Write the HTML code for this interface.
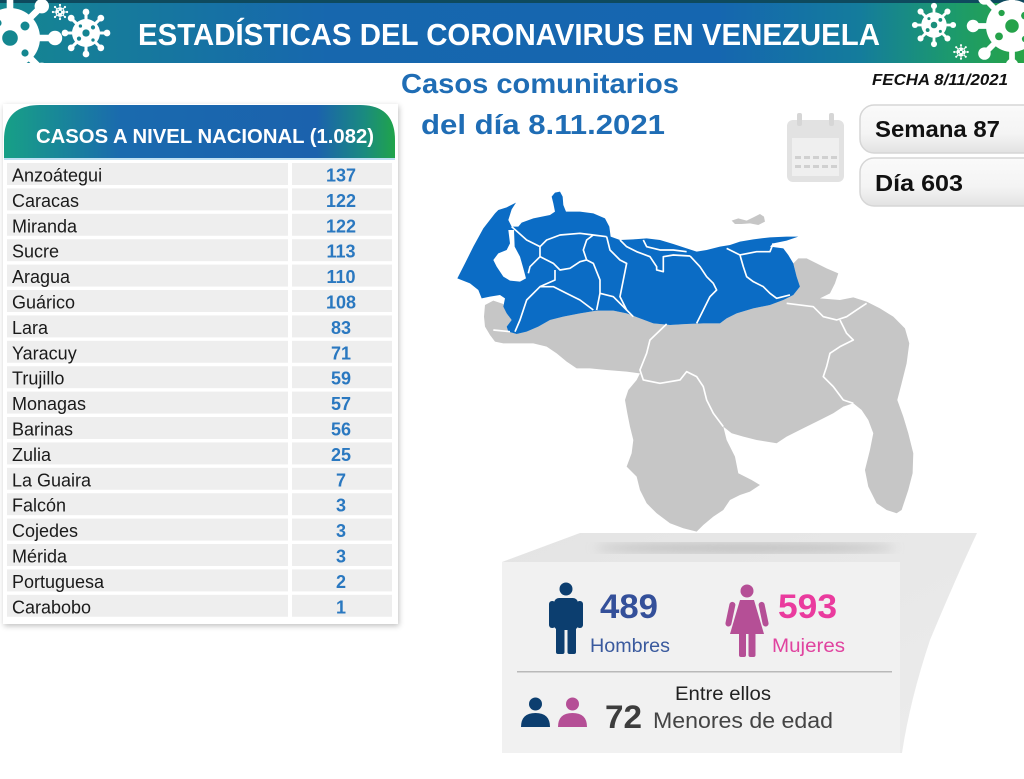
<!DOCTYPE html>
<html>
<head>
<meta charset="utf-8">
<style>
html,body{margin:0;padding:0;background:#fff;}
body{width:1024px;height:779px;overflow:hidden;}
svg{display:block;font-family:"Liberation Sans", sans-serif;}
</style>
</head>
<body>
<svg width="1024" height="779" viewBox="0 0 1024 779" xmlns="http://www.w3.org/2000/svg">
<defs>
  <linearGradient id="ban" x1="0" y1="0" x2="1" y2="0">
    <stop offset="0" stop-color="#148790"/>
    <stop offset="0.12" stop-color="#167a9c"/>
    <stop offset="0.32" stop-color="#1767ae"/>
    <stop offset="0.7" stop-color="#1566b0"/>
    <stop offset="0.84" stop-color="#147c9c"/>
    <stop offset="0.93" stop-color="#1c9a6c"/>
    <stop offset="1" stop-color="#27a447"/>
  </linearGradient>
  <linearGradient id="hdr" x1="0" y1="0" x2="1" y2="0">
    <stop offset="0" stop-color="#17a086"/>
    <stop offset="0.3" stop-color="#1a6aae"/>
    <stop offset="0.8" stop-color="#1b62ad"/>
    <stop offset="0.92" stop-color="#1a8a80"/>
    <stop offset="1" stop-color="#20a44a"/>
  </linearGradient>
  <linearGradient id="boxg" x1="0" y1="0" x2="0" y2="1">
    <stop offset="0" stop-color="#fafafa"/>
    <stop offset="0.6" stop-color="#f4f4f4"/>
    <stop offset="1" stop-color="#e2e2e2"/>
  </linearGradient>
  <linearGradient id="backg" x1="0" y1="0" x2="1" y2="1">
    <stop offset="0" stop-color="#e4e4e4"/>
    <stop offset="1" stop-color="#ececec"/>
  </linearGradient>
  <filter id="sh" x="-10%" y="-10%" width="120%" height="120%">
    <feGaussianBlur in="SourceAlpha" stdDeviation="3"/>
    <feOffset dx="1" dy="2" result="b"/>
    <feComponentTransfer><feFuncA type="linear" slope="0.25"/></feComponentTransfer>
    <feMerge><feMergeNode/><feMergeNode in="SourceGraphic"/></feMerge>
  </filter>
  <filter id="blur6"><feGaussianBlur stdDeviation="5"/></filter>
  <g id="v">
    <g stroke="#fff" stroke-width="2.2">
      <line x1="0" y1="0" x2="15" y2="0"/><line x1="0" y1="0" x2="10.6" y2="10.6"/>
      <line x1="0" y1="0" x2="0" y2="15"/><line x1="0" y1="0" x2="-10.6" y2="10.6"/>
      <line x1="0" y1="0" x2="-15" y2="0"/><line x1="0" y1="0" x2="-10.6" y2="-10.6"/>
      <line x1="0" y1="0" x2="0" y2="-15"/><line x1="0" y1="0" x2="10.6" y2="-10.6"/>
    </g>
    <g fill="#fff">
      <circle r="10"/>
      <circle cx="15" cy="0" r="2.4"/><circle cx="10.6" cy="10.6" r="2.4"/>
      <circle cx="0" cy="15" r="2.4"/><circle cx="-10.6" cy="10.6" r="2.4"/>
      <circle cx="-15" cy="0" r="2.4"/><circle cx="-10.6" cy="-10.6" r="2.4"/>
      <circle cx="0" cy="-15" r="2.4"/><circle cx="10.6" cy="-10.6" r="2.4"/>
    </g>
    <g fill="currentColor">
      <circle r="2.6"/><circle cx="5" cy="-4" r="1.5"/><circle cx="-5" cy="4" r="1.5"/>
      <circle cx="-4" cy="-5" r="1.2"/><circle cx="5" cy="5" r="1.2"/>
    </g>
  </g>
</defs>

<!-- Banner -->
<rect x="0" y="0" width="1024" height="63" fill="url(#ban)"/>
<rect x="0" y="0" width="1024" height="3" fill="#0e4a5e"/>
<use href="#v" transform="translate(10,38) scale(3)" style="color:#148790"/>
<use href="#v" transform="translate(86,33) scale(1.4)" style="color:#158592"/>
<use href="#v" transform="translate(60,12) scale(0.47)" style="color:#158592"/>
<use href="#v" transform="translate(934,25) scale(1.27)" style="color:#1a8f7c"/>
<use href="#v" transform="translate(961,52) scale(0.45)" style="color:#1d9a6a"/>
<use href="#v" transform="translate(1012,26) scale(2.6)" style="color:#25a24a"/>
<rect x="0" y="63" width="1024" height="8" fill="#fff"/>
<text x="138" y="45" font-size="31" font-weight="bold" fill="#fff" textLength="742" lengthAdjust="spacingAndGlyphs">ESTADÍSTICAS DEL CORONAVIRUS EN VENEZUELA</text>

<!-- Subtitle -->
<text x="401" y="93" font-size="28" font-weight="bold" fill="#1f6db5" textLength="278" lengthAdjust="spacingAndGlyphs">Casos comunitarios</text>
<text x="421" y="134" font-size="28" font-weight="bold" fill="#1f6db5" textLength="244" lengthAdjust="spacingAndGlyphs">del día 8.11.2021</text>

<!-- Fecha & boxes -->
<text x="872" y="85" font-size="16" font-weight="bold" font-style="italic" fill="#111" textLength="136" lengthAdjust="spacingAndGlyphs">FECHA 8/11/2021</text>
<rect x="860" y="105" width="180" height="48" rx="14" fill="url(#boxg)" stroke="#d6d6d6" stroke-width="1.5"/>
<rect x="860" y="158" width="180" height="48" rx="14" fill="url(#boxg)" stroke="#d6d6d6" stroke-width="1.5"/>
<text x="875" y="137" font-size="23" font-weight="bold" fill="#111" textLength="125" lengthAdjust="spacingAndGlyphs">Semana 87</text>
<text x="875" y="191" font-size="23" font-weight="bold" fill="#111" textLength="88" lengthAdjust="spacingAndGlyphs">Día 603</text>

<!-- Calendar icon -->
<g>
  <rect x="787" y="120" width="57" height="62" rx="6" fill="#e2e2e2"/>
  <rect x="792" y="138" width="47" height="38" fill="#efefef"/>
  <rect x="797" y="113" width="5" height="13" rx="2" fill="#d6d6d6"/>
  <rect x="829" y="113" width="5" height="13" rx="2" fill="#d6d6d6"/>
  <g fill="#d0d0d0">
    <rect x="795" y="156" width="6" height="3"/><rect x="804" y="156" width="6" height="3"/><rect x="813" y="156" width="6" height="3"/><rect x="822" y="156" width="6" height="3"/><rect x="831" y="156" width="6" height="3"/>
    <rect x="795" y="165" width="6" height="3"/><rect x="804" y="165" width="6" height="3"/><rect x="813" y="165" width="6" height="3"/><rect x="822" y="165" width="6" height="3"/><rect x="831" y="165" width="6" height="3"/>
  </g>
</g>

<!-- Table -->
<rect x="3" y="104" width="395" height="520" fill="#fff" filter="url(#sh)"/>
<path d="M4,158 L4,140 Q4,105 40,105 L360,105 Q395,105 395,140 L395,158 Z" fill="url(#hdr)"/>
<text x="36" y="143" font-size="20" font-weight="bold" fill="#fff" textLength="338" lengthAdjust="spacingAndGlyphs">CASOS A NIVEL NACIONAL  (1.082)</text>
<rect x="4" y="158" width="391" height="2" fill="#bfe0f2"/>

<g font-size="18" fill="#1a1a1a">
<g>
<rect x="7" y="163" width="281" height="22" fill="#eeeeee"/><rect x="292" y="163" width="100" height="22" fill="#eeeeee"/>
<rect x="7" y="188.4" width="281" height="22" fill="#eeeeee"/><rect x="292" y="188.4" width="100" height="22" fill="#eeeeee"/>
<rect x="7" y="213.8" width="281" height="22" fill="#eeeeee"/><rect x="292" y="213.8" width="100" height="22" fill="#eeeeee"/>
<rect x="7" y="239.2" width="281" height="22" fill="#eeeeee"/><rect x="292" y="239.2" width="100" height="22" fill="#eeeeee"/>
<rect x="7" y="264.6" width="281" height="22" fill="#eeeeee"/><rect x="292" y="264.6" width="100" height="22" fill="#eeeeee"/>
<rect x="7" y="290" width="281" height="22" fill="#eeeeee"/><rect x="292" y="290" width="100" height="22" fill="#eeeeee"/>
<rect x="7" y="315.4" width="281" height="22" fill="#eeeeee"/><rect x="292" y="315.4" width="100" height="22" fill="#eeeeee"/>
<rect x="7" y="340.8" width="281" height="22" fill="#eeeeee"/><rect x="292" y="340.8" width="100" height="22" fill="#eeeeee"/>
<rect x="7" y="366.2" width="281" height="22" fill="#eeeeee"/><rect x="292" y="366.2" width="100" height="22" fill="#eeeeee"/>
<rect x="7" y="391.6" width="281" height="22" fill="#eeeeee"/><rect x="292" y="391.6" width="100" height="22" fill="#eeeeee"/>
<rect x="7" y="417" width="281" height="22" fill="#eeeeee"/><rect x="292" y="417" width="100" height="22" fill="#eeeeee"/>
<rect x="7" y="442.4" width="281" height="22" fill="#eeeeee"/><rect x="292" y="442.4" width="100" height="22" fill="#eeeeee"/>
<rect x="7" y="467.8" width="281" height="22" fill="#eeeeee"/><rect x="292" y="467.8" width="100" height="22" fill="#eeeeee"/>
<rect x="7" y="493.2" width="281" height="22" fill="#eeeeee"/><rect x="292" y="493.2" width="100" height="22" fill="#eeeeee"/>
<rect x="7" y="518.6" width="281" height="22" fill="#eeeeee"/><rect x="292" y="518.6" width="100" height="22" fill="#eeeeee"/>
<rect x="7" y="544" width="281" height="22" fill="#eeeeee"/><rect x="292" y="544" width="100" height="22" fill="#eeeeee"/>
<rect x="7" y="569.4" width="281" height="22" fill="#eeeeee"/><rect x="292" y="569.4" width="100" height="22" fill="#eeeeee"/>
<rect x="7" y="594.8" width="281" height="22" fill="#eeeeee"/><rect x="292" y="594.8" width="100" height="22" fill="#eeeeee"/>
</g>
<text x="12" y="181.5">Anzoátegui</text>
<text x="12" y="206.9">Caracas</text>
<text x="12" y="232.3">Miranda</text>
<text x="12" y="257.7">Sucre</text>
<text x="12" y="283.1">Aragua</text>
<text x="12" y="308.5">Guárico</text>
<text x="12" y="333.9">Lara</text>
<text x="12" y="359.3">Yaracuy</text>
<text x="12" y="384.7">Trujillo</text>
<text x="12" y="410.1">Monagas</text>
<text x="12" y="435.5">Barinas</text>
<text x="12" y="460.9">Zulia</text>
<text x="12" y="486.3">La Guaira</text>
<text x="12" y="511.7">Falcón</text>
<text x="12" y="537.1">Cojedes</text>
<text x="12" y="562.5">Mérida</text>
<text x="12" y="587.9">Portuguesa</text>
<text x="12" y="613.3">Carabobo</text>
<g font-weight="bold" fill="#2a78c0" text-anchor="middle">
<text x="341" y="181.5">137</text>
<text x="341" y="206.9">122</text>
<text x="341" y="232.3">122</text>
<text x="341" y="257.7">113</text>
<text x="341" y="283.1">110</text>
<text x="341" y="308.5">108</text>
<text x="341" y="333.9">83</text>
<text x="341" y="359.3">71</text>
<text x="341" y="384.7">59</text>
<text x="341" y="410.1">57</text>
<text x="341" y="435.5">56</text>
<text x="341" y="460.9">25</text>
<text x="341" y="486.3">7</text>
<text x="341" y="511.7">3</text>
<text x="341" y="537.1">3</text>
<text x="341" y="562.5">3</text>
<text x="341" y="587.9">2</text>
<text x="341" y="613.3">1</text>
</g>
</g>

<!-- Map -->
<g transform="translate(440,180) scale(0.3333)">
  <path fill="#c6c6c6" d="M135,375 L160,362 L190,372 L200,400 L215,420 L200,440 L205,455 L230,462 L260,455 L295,440 L330,420 L370,410 L420,400 L470,392 L520,392 L560,400 L600,415 L640,430 L690,435 L740,432 L790,430 L840,430 L860,415 L890,400 L940,385 L990,375 L1030,360 L1060,345 L1080,320 L1070,290 L1060,250 L1075,235 L1100,235 L1130,250 L1160,265 L1195,280 L1185,310 L1170,340 L1140,355 L1200,360 L1240,352 L1280,365 L1320,385 L1360,410 L1395,445 L1408,490 L1400,550 L1385,610 L1372,660 L1390,710 L1405,760 L1420,820 L1418,880 L1405,930 L1385,990 L1370,1000 L1340,990 L1310,970 L1285,920 L1275,870 L1290,810 L1300,760 L1285,720 L1265,690 L1240,670 L1210,680 L1180,700 L1140,720 L1090,745 L1040,770 L1010,790 L980,785 L950,780 L910,770 L875,760 L850,740 L860,780 L885,830 L895,880 L935,900 L960,915 L930,935 L900,945 L870,960 L850,990 L820,1010 L790,1035 L770,1055 L730,1045 L690,1030 L650,1000 L620,970 L600,930 L590,890 L560,860 L575,820 L580,780 L570,740 L562,700 L555,660 L565,630 L590,600 L600,580 L560,575 L500,570 L450,565 L410,565 L380,545 L350,520 L320,500 L280,490 L230,490 L190,490 L165,485 L150,465 L135,440 L132,410 Z"/>
  <path fill="#c6c6c6" d="M875,122 L895,115 L920,122 L940,112 L960,102 L972,110 L975,125 L955,135 L930,130 L905,132 L885,132 Z"/>
  <path fill="#0b6cc5" d="M52,295 L75,250 L100,200 L130,145 L165,100 L175,90 L200,82 L228,68 L215,88 L205,120 L215,140 L235,140 L245,128 L280,115 L330,105 L345,95 L340,70 L335,50 L345,38 L360,35 L368,50 L370,75 L378,95 L420,95 L460,100 L495,115 L508,140 L512,170 L540,180 L580,178 L620,175 L660,180 L700,192 L740,205 L770,215 L800,210 L840,200 L870,195 L900,185 L940,178 L990,172 L1040,170 L1075,170 L1040,182 L1000,190 L990,200 L1030,205 L1045,225 L1060,250 L1070,290 L1080,320 L1060,345 L1030,360 L990,375 L940,385 L890,400 L860,415 L840,430 L790,430 L740,432 L690,435 L640,430 L600,415 L560,400 L520,392 L470,392 L420,400 L370,410 L330,420 L295,440 L260,455 L230,462 L205,455 L200,440 L215,420 L200,400 L190,380 L195,355 L180,345 L150,350 L125,355 L115,330 L90,310 Z"/>
  <path fill="#fff" d="M205,150 L222,150 L224,200 L240,230 L250,265 L258,295 L240,305 L210,302 L190,290 L170,260 L160,240 L175,220 L200,210 L210,190 Z"/>
  <g fill="none" stroke="#fff" stroke-width="5" stroke-linejoin="round">
    <path d="M215,140 L260,180 L300,200 L300,230 L270,260 L265,280"/>
    <path d="M300,200 L320,180 L360,165 L420,160 L460,165 L500,170"/>
    <path d="M300,230 L340,250 L360,270 L390,265 L420,245 L440,240"/>
    <path d="M440,240 L430,210 L440,180 L460,165"/>
    <path d="M440,240 L460,250 L480,300 L480,340 L470,390"/>
    <path d="M345,270 L345,300 L300,320 L260,360 L250,390 L240,420 L225,455"/>
    <path d="M300,320 L340,320 L380,340 L420,360 L460,390"/>
    <path d="M480,340 L520,350 L560,390"/>
    <path d="M500,170 L510,210 L540,240 L560,250 L550,300 L540,350 L560,390 L580,410"/>
    <path d="M540,180 L560,200 L590,215 L630,230 L650,260 L650,270 L670,275 L670,230 L700,225 L750,228"/>
    <path d="M750,228 L780,260 L800,290 L820,310 L830,330 L810,350 L790,390 L770,430"/>
    <path d="M900,225 L910,260 L920,290 L940,305 L970,320 L990,340 L1010,355 L1050,345"/>
    <path d="M860,205 L900,225 L950,215 L990,215 L1000,190"/>
    <path d="M610,180 L620,200 L660,210 L700,210 L740,215"/>
    <path d="M680,432 L630,480 L620,520 L600,570 L610,600 L660,610 L720,600 L740,575 L770,590 L790,620 L800,660 L820,700 L850,740"/>
    <path d="M1040,370 L1120,380 L1150,410 L1190,420 L1220,410 L1250,390 L1280,370"/>
    <path d="M1200,420 L1220,460 L1240,480 L1200,500 L1170,520 L1160,560 L1150,590 L1180,620 L1210,660 L1240,670"/>
    <path d="M160,450 L210,455"/>
  </g>
</g>

<!-- Bottom panel -->
<path d="M502,562 L580,533 L977,533 Q955,580 930,640 Q910,700 902,753 L502,753 Z" fill="url(#backg)"/>
<ellipse cx="745" cy="548" rx="150" ry="5" fill="#bdbdbd" filter="url(#blur6)"/>
<rect x="502" y="562" width="398" height="191" fill="#f1f1f1"/>

<!-- man -->
<g fill="#0c3e6f">
  <circle cx="566" cy="589" r="6.5"/>
  <rect x="554" y="598" width="24" height="32" rx="5"/>
  <rect x="549" y="601" width="6.5" height="27" rx="3"/>
  <rect x="576.5" y="601" width="6.5" height="27" rx="3"/>
  <rect x="556" y="624" width="8.5" height="30" rx="2"/>
  <rect x="567.5" y="624" width="8.5" height="30" rx="2"/>
</g>
<!-- woman -->
<g fill="#b54f96">
  <circle cx="747" cy="591" r="6.5"/>
  <path d="M740,600 L754,600 L764,634 L730,634 Z"/>
  <rect x="730" y="602" width="6" height="25" rx="3" transform="rotate(12 733 602)"/>
  <rect x="758" y="602" width="6" height="25" rx="3" transform="rotate(-12 761 602)"/>
  <rect x="739" y="630" width="7" height="27" rx="2"/>
  <rect x="748.5" y="630" width="7" height="27" rx="2"/>
</g>

<text x="600" y="618" font-size="34" font-weight="bold" fill="#34509a" textLength="58" lengthAdjust="spacingAndGlyphs">489</text>
<text x="590" y="652" font-size="19" fill="#3a5a9e" textLength="80" lengthAdjust="spacingAndGlyphs">Hombres</text>
<text x="778" y="618" font-size="34" font-weight="bold" fill="#ea3b9e" textLength="59" lengthAdjust="spacingAndGlyphs">593</text>
<text x="772" y="652" font-size="19" fill="#e0439f" textLength="73" lengthAdjust="spacingAndGlyphs">Mujeres</text>

<rect x="517" y="671" width="375" height="1.5" fill="#b9b9b9"/>

<text x="675" y="700" font-size="19" fill="#222" textLength="96" lengthAdjust="spacingAndGlyphs">Entre ellos</text>
<g fill="#0c3e6f">
  <circle cx="535.5" cy="704" r="6.5"/>
  <path d="M521,727 Q521,713 535.5,713 Q550,713 550,727 Z"/>
</g>
<g fill="#b54f96">
  <circle cx="572.5" cy="704" r="6.5"/>
  <path d="M558,727 Q558,713 572.5,713 Q587,713 587,727 Z"/>
</g>
<text x="605" y="728" font-size="32" font-weight="bold" fill="#3d3d3d" textLength="37" lengthAdjust="spacingAndGlyphs">72</text>
<text x="653" y="728" font-size="22" fill="#444" textLength="180" lengthAdjust="spacingAndGlyphs">Menores de edad</text>
</svg>
</body>
</html>
